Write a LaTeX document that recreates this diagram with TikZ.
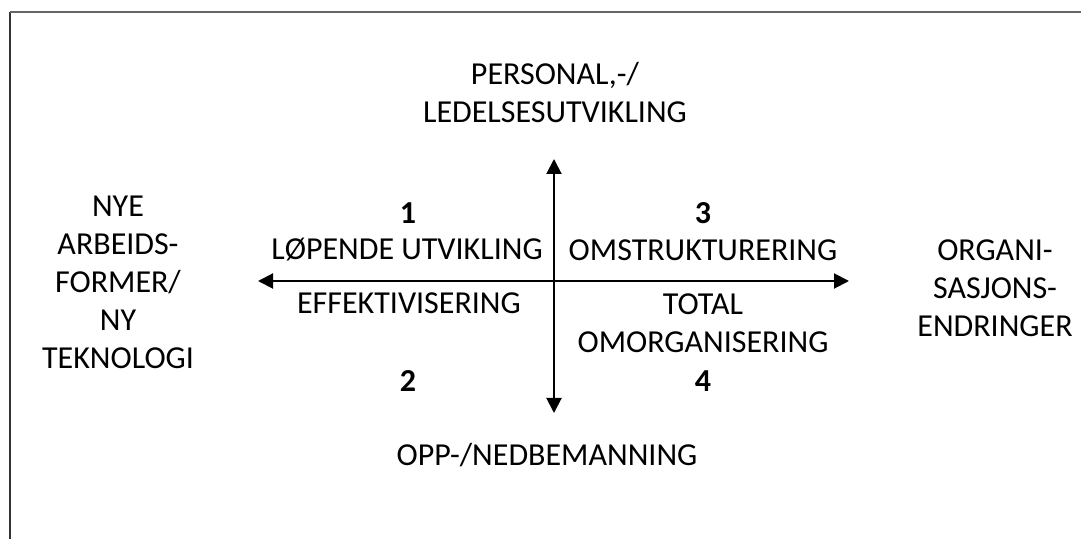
\documentclass[tikz,border=0pt]{standalone}
\usepackage{fontspec}
\setmainfont{Carlito}
\usetikzlibrary{arrows.meta}

\begin{document}
\begin{tikzpicture}[x=0.5pt,y=-0.5pt,
        lbl/.style={align=center,inner sep=0pt,font=\fontsize{16}{19}\selectfont},
        num/.style={inner sep=0pt,font=\fontsize{16}{19}\selectfont\bfseries},
        axis/.style={line width=1pt,{Triangle[length=7.5pt,width=7.5pt]}-{Triangle[length=7.5pt,width=7.5pt]}}]
                \useasboundingbox (0,0) rectangle (1081,539);
                \draw[line width=1.3pt,black!80] (10,539) -- (10,12);
                \draw[line width=1.3pt,black!60] (10,12) -- (1081,12);

                \coordinate (w) at (258,281);
                \coordinate (e) at (849,281);
                \coordinate (n) at (554,159);
                \coordinate (s) at (554,413);

                \node[lbl] (top) at (555,93) {PERSONAL,-/\\LEDELSESUTVIKLING};
                \node[lbl] (bottom) at (547,455) {OPP-/NEDBEMANNING};
                \node[lbl] (left) at (118,282) {NYE\\ARBEIDS-\\FORMER/\\NY\\TEKNOLOGI};
                \node[lbl] (right) at (995,288) {ORGANI-\\SASJONS-\\ENDRINGER};

                \node[num] (1) at (408,213) {1};
                \node[num] (3) at (703,213) {3};
                \node[num] (2) at (408,381) {2};
                \node[num] (4) at (703,381) {4};

                \node[lbl] (q1) at (407,250) {LØPENDE UTVIKLING};
                \node[lbl] (q3) at (703,250) {OMSTRUKTURERING};
                \node[lbl] (q2) at (409,303) {EFFEKTIVISERING};
                \node[lbl] (q4) at (703,323) {TOTAL\\OMORGANISERING};

                \draw[axis] (w) -- (e);
                \draw[axis] (n) -- (s);

            \end{tikzpicture}
\end{document}
